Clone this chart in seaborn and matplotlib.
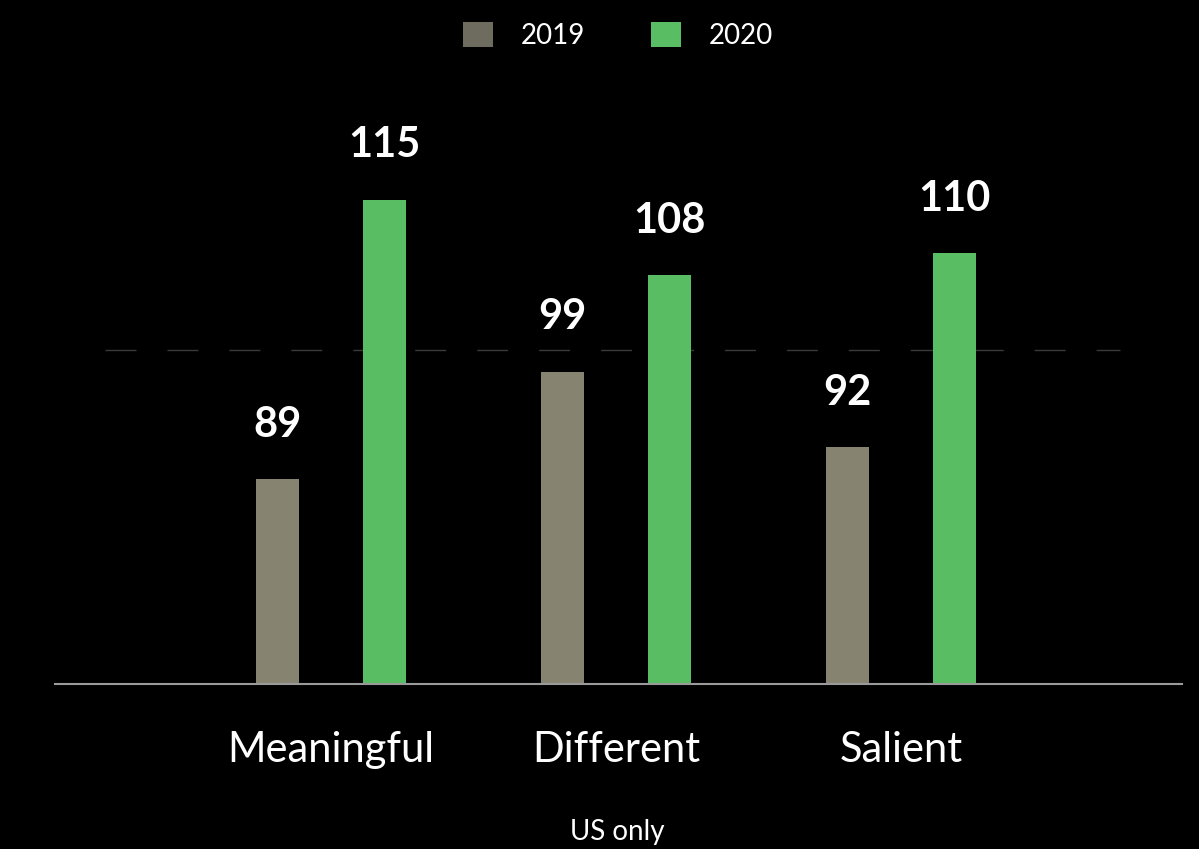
import matplotlib
matplotlib.use("Agg")
import matplotlib.pyplot as plt
import seaborn as sns
import pandas as pd
from matplotlib.patches import Patch

# Brand equity index by attribute, US only
categories = ["Meaningful", "Different", "Salient"]
years = ["2019", "2020"]
values_2019 = [89, 99, 92]
values_2020 = [115, 108, 110]
reference_level = 101

df = pd.DataFrame({
    "attribute": categories * 2,
    "year": [years[0]] * len(categories) + [years[1]] * len(categories),
    "score": values_2019 + values_2020,
})

sns.set_theme(style="dark")
plt.rcParams["font.family"] = ["Lato", "DejaVu Sans"]

bar_colors = {"2019": "#868471", "2020": "#58BD63"}
legend_colors = {"2019": "#6E6C5E", "2020": "#58BD63"}

W, H = 1199, 849
fig = plt.figure(figsize=(W / 100, H / 100), dpi=100, facecolor="black")
ax = fig.add_axes([55 / W, 1 - 684 / H, (1182 - 55) / W, (684 - 92) / H])
ax.set_facecolor("black")

sns.barplot(data=df, x="attribute", y="score", hue="year", palette=bar_colors,
            width=0.752, gap=0.6, saturation=1, legend=False,
            edgecolor="none", linewidth=0, ax=ax)

ax.set_ylim(70, 125)
ax.set_xlim(-0.968, 2.986)

# reference line
ax.plot([-0.793, 2.768], [reference_level, reference_level], color="#3a3a3a",
        lw=1.0, linestyle=(0, (22.3, 22.3)), zorder=0)

# value labels above each bar
for container, vals in zip(ax.containers, [values_2019, values_2020]):
    for bar, v in zip(container, vals):
        ax.annotate(str(v), xy=(bar.get_x() + bar.get_width() / 2, v),
                    xytext=(0, 30.5), textcoords="offset points",
                    ha="center", va="baseline", fontsize=30,
                    fontweight="bold", color="white")

for side in ["left", "right", "top"]:
    ax.spines[side].set_visible(False)
ax.spines["bottom"].set_color("#9a9a9a")
ax.spines["bottom"].set_linewidth(1.5)
ax.grid(False)
ax.set_yticks([])
ax.set_xlabel("")
ax.set_ylabel("")
ax.tick_params(axis="x", length=0, pad=34, labelsize=30, labelcolor="white")

fig.text(617 / W, 1 - 832 / H, "US only", ha="center", va="center",
         fontsize=20, color="white")

handles = [Patch(facecolor=legend_colors[y], edgecolor="none") for y in years]
fig.legend(handles=handles, labels=years, loc="upper center",
           bbox_to_anchor=(618 / W, 1 - 22 / H), ncol=2, frameon=False,
           fontsize=20, labelcolor="white", handlelength=1.08,
           handleheight=1.0, handletextpad=0.97, columnspacing=2.4,
           borderaxespad=0, borderpad=0)

fig.savefig("out.png", dpi=100, facecolor="black")
